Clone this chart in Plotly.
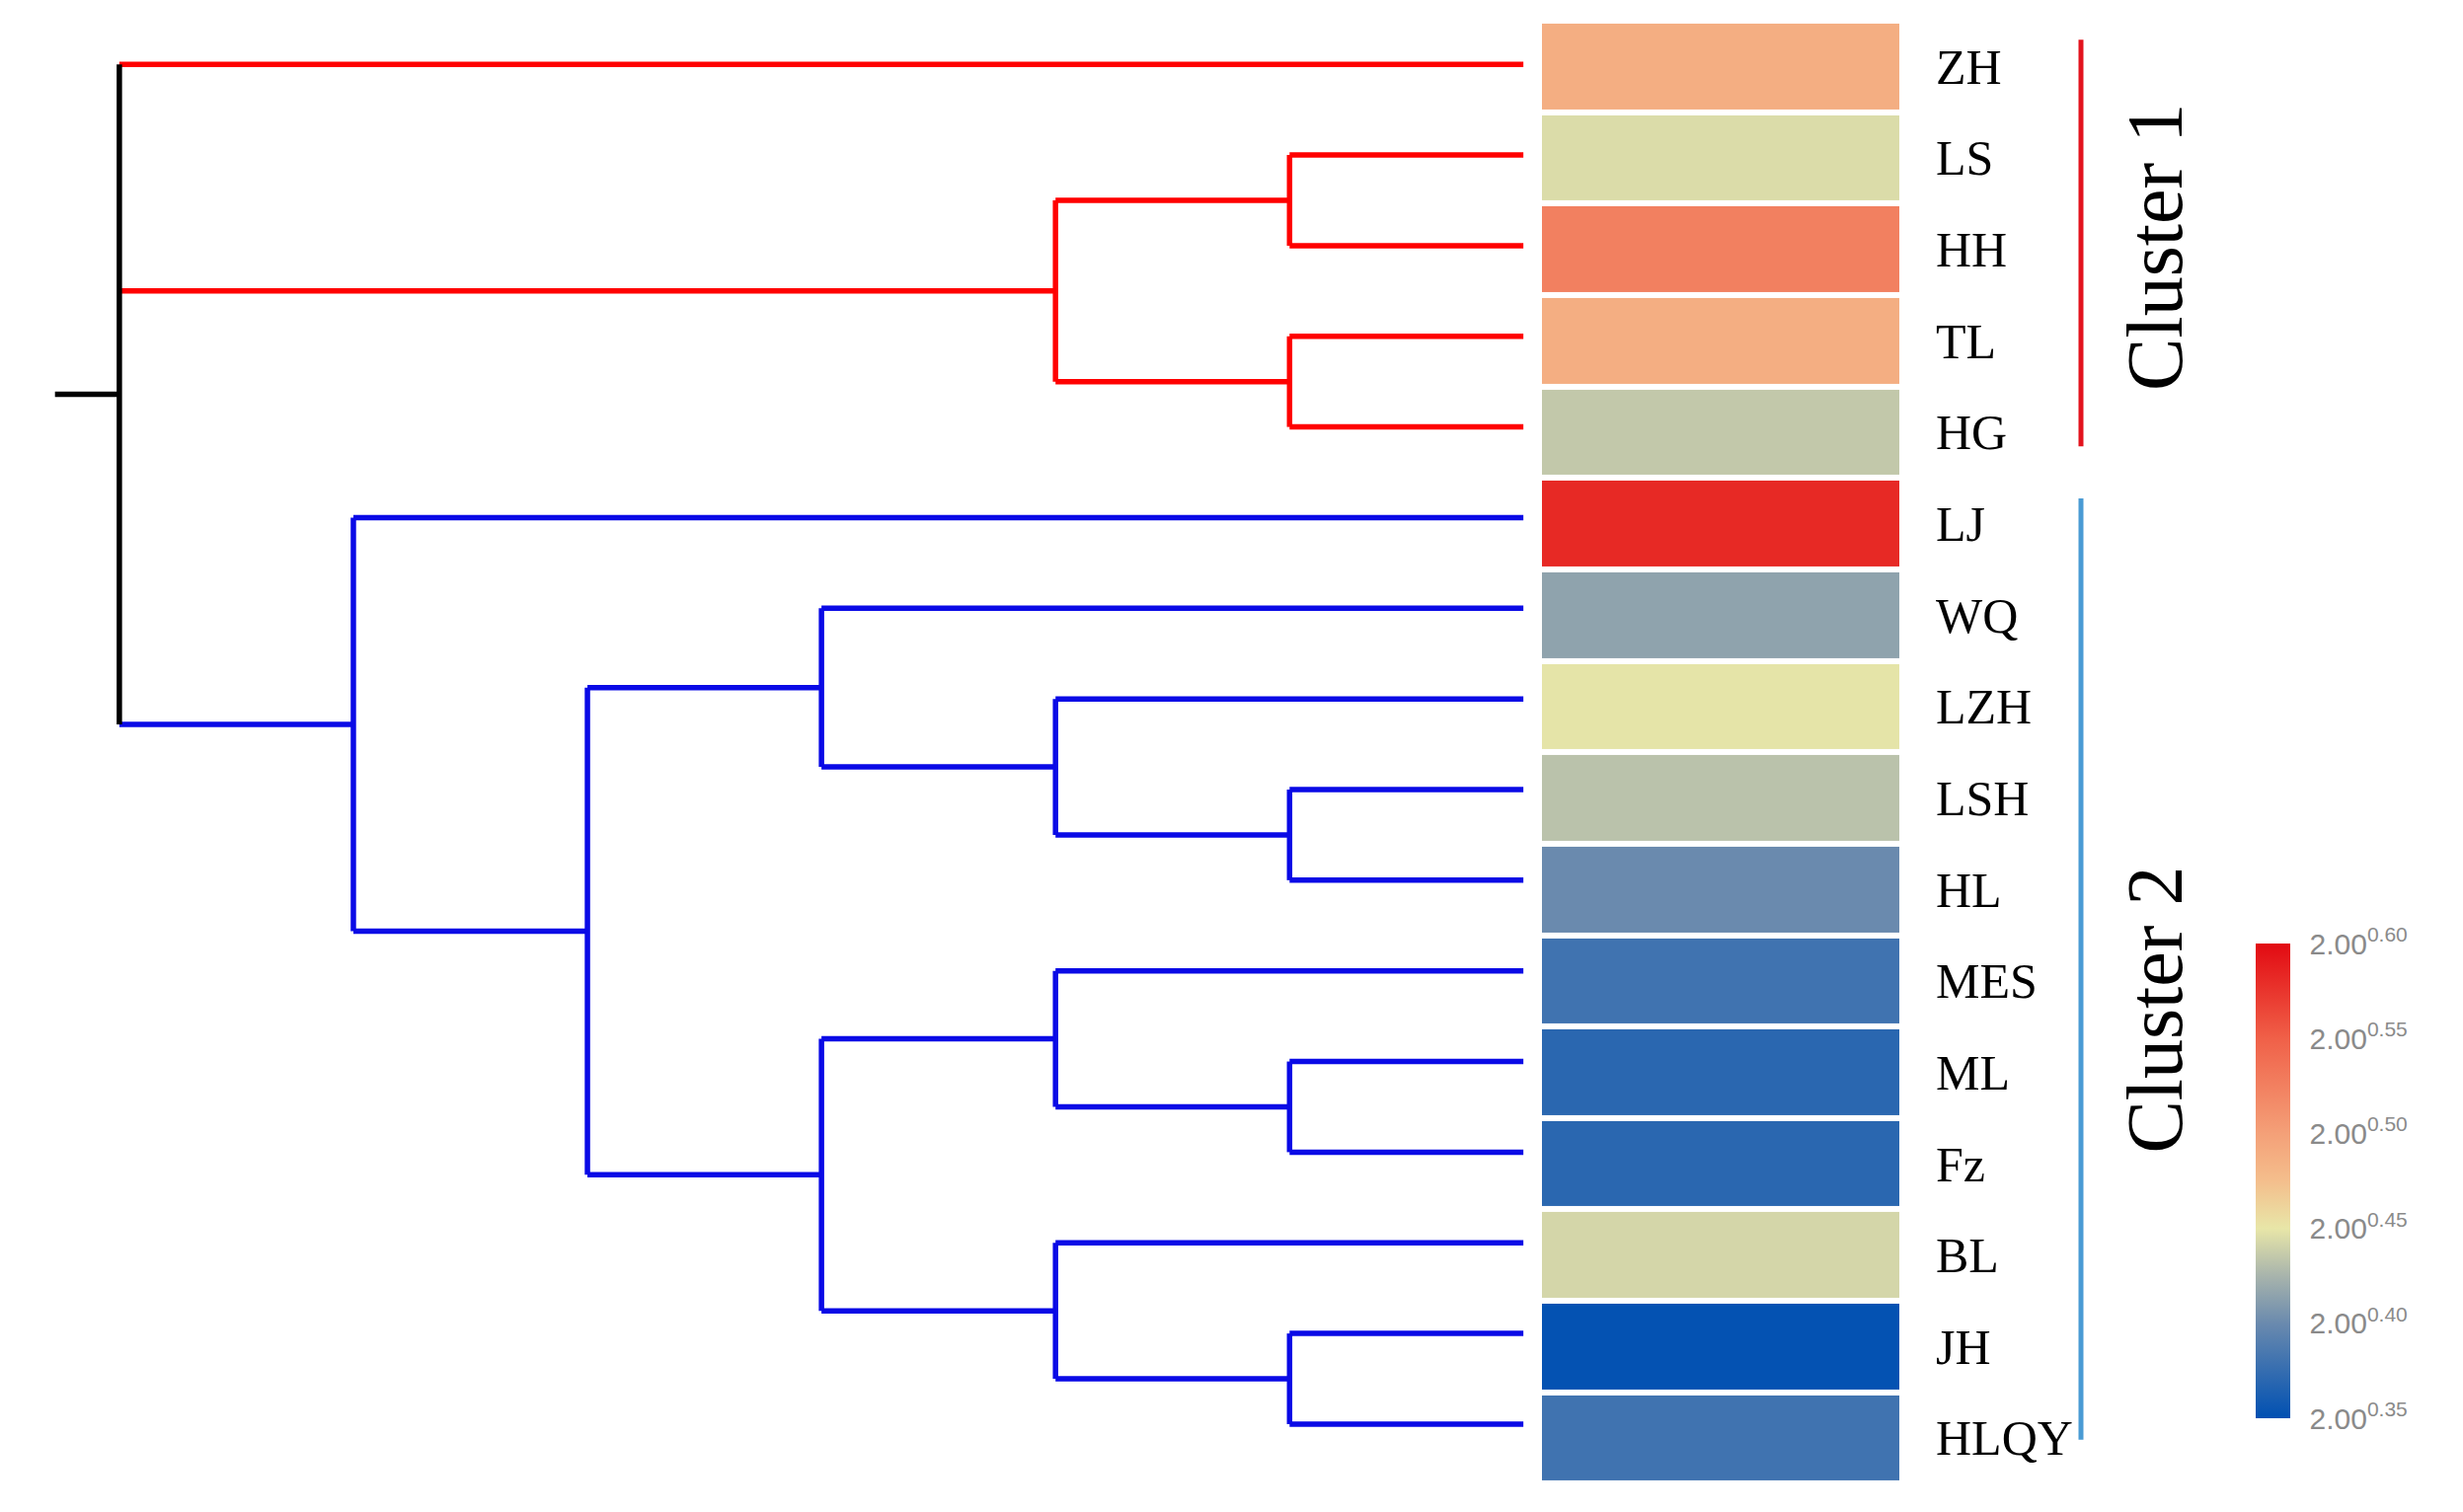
import plotly.graph_objects as go

# ---------------- data ----------------
labels = ["ZH", "LS", "HH", "TL", "HG", "LJ", "WQ", "LZH", "LSH", "HL",
          "MES", "ML", "Fz", "BL", "JH", "HLQY"]
values = [0.488, 0.445, 0.525, 0.488, 0.435, 0.582, 0.415, 0.449, 0.432, 0.400,
          0.380, 0.370, 0.370, 0.442, 0.352, 0.380]

# dendrogram merges (node, left child, right child, height)
merge_nodes = ["c1a", "c1b", "c1", "C1", "b1", "b2", "b3", "b4", "b5", "b6",
               "b7", "b8", "b9", "b10", "root"]
merge_left = ["LS", "TL", "c1a", "ZH", "LSH", "LZH", "WQ", "ML", "MES", "JH",
              "BL", "b5", "b3", "LJ", "C1"]
merge_right = ["HH", "HG", "c1b", "c1", "HL", "b1", "b2", "Fz", "b4", "HLQY",
               "b6", "b7", "b8", "b9", "b10"]
merge_height = [1, 1, 2, 6, 1, 2, 3, 1, 2, 1, 2, 3, 4, 5, 6]

cluster_names = ["Cluster 1", "Cluster 2"]
cluster_members = [["ZH", "LS", "HH", "TL", "HG"],
                   ["LJ", "WQ", "LZH", "LSH", "HL", "MES", "ML", "Fz", "BL", "JH", "HLQY"]]

cbar_tickvals = [0.35, 0.40, 0.45, 0.50, 0.55, 0.60]
cbar_ticktext = ["2.00<sup>0.35</sup>", "2.00<sup>0.40</sup>", "2.00<sup>0.45</sup>",
                 "2.00<sup>0.50</sup>", "2.00<sup>0.55</sup>", "2.00<sup>0.60</sup>"]

# ---------------- styles ----------------
PAGE_W, PAGE_H = 2495, 1532
OFF = 8  # default page body margin
W, H = PAGE_W - 2 * OFF, PAGE_H - 2 * OFF


def px(x):  # page x pixel -> paper fraction
    return (x - OFF) / W


def py(y):  # page y pixel (from top) -> figure pixel from top
    return y - OFF


branch_colors = ["#FF0000", "#0A0AE6"]
root_color = "#000000"
bar_colors = ["#E3141E", "#4A9BD4"]
bar_pad = [(-0.29, 0.155), (-0.275, 0.02)]
text_offset = [0.05, 0.45]
stub_len = 0.275
lw = 5.5

colorscale = [[0.0, "#0050B2"], [0.2, "#6A8AAE"], [0.3, "#A8B4AC"], [0.4, "#E8E6A8"],
              [0.5, "#F4BE8C"], [0.6, "#F4A078"], [0.8, "#F06048"], [1.0, "#E20A12"]]

# ---------------- dendrogram geometry ----------------
leaf_pos = {lab: i for i, lab in enumerate(labels)}
children = {n: [l, r] for n, l, r in zip(merge_nodes, merge_left, merge_right)}
height = {n: h for n, h in zip(merge_nodes, merge_height)}
for lab in labels:
    height[lab] = 0


def leaves_of(n):
    if n in leaf_pos:
        return [n]
    return leaves_of(children[n][0]) + leaves_of(children[n][1])


def color_of(n):
    lv = set(leaves_of(n))
    for k, mem in enumerate(cluster_members):
        if lv <= set(mem):
            return branch_colors[k]
    return root_color


def flat_children(n):
    out = []
    for c in children[n]:
        if c in children and height[c] == height[n]:
            out += flat_children(c)
        else:
            out.append(c)
    return out


ypos = {}


def node_y(n):
    if n in ypos:
        return ypos[n]
    if n in leaf_pos:
        ypos[n] = leaf_pos[n]
    else:
        ys = [node_y(c) for c in flat_children(n)]
        ypos[n] = (min(ys) + max(ys)) / 2
    return ypos[n]


segs = {}


def add_seg(col, x0, y0, x1, y1):
    xs, ys = segs.setdefault(col, ([], []))
    xs += [x0, x1, None]
    ys += [y0, y1, None]


def draw(n):
    if n in leaf_pos:
        return
    kids = flat_children(n)
    hn = height[n]
    ys = [node_y(c) for c in kids]
    for c in kids:
        add_seg(color_of(c), height[c], node_y(c), hn, node_y(c))
        draw(c)
    add_seg(color_of(n), hn, min(ys), hn, max(ys))


root = merge_nodes[-1]
draw(root)
add_seg(root_color, height[root], node_y(root), height[root] + stub_len, node_y(root))

fig = go.Figure()
for col, (xs, ys) in segs.items():
    fig.add_trace(go.Scatter(x=xs, y=ys, mode="lines", xaxis="x", yaxis="y",
                             line=dict(color=col, width=lw), hoverinfo="skip",
                             showlegend=False))

# ---------------- heatmap ----------------
fig.add_trace(go.Heatmap(
    z=[[v] for v in values], x=[0], y=list(range(len(labels))),
    xaxis="x2", yaxis="y2", zmin=0.35, zmax=0.60, colorscale=colorscale,
    ygap=6, xgap=0,
    colorbar=dict(x=px(2285), xanchor="left", y=1 - py(1196.5) / H, yanchor="middle",
                  len=481 / H, lenmode="fraction", thickness=35, outlinewidth=0,
                  tickmode="array", tickvals=cbar_tickvals, ticktext=cbar_ticktext,
                  ticks="outside", ticklen=14, tickcolor="rgba(0,0,0,0)",
                  tickfont=dict(family="Liberation Sans", size=30, color="#8A8A8A"),
                  ypad=0, xpad=0)))

# ---------------- cluster bars & texts ----------------
for k, mem in enumerate(cluster_members):
    idx = [leaf_pos[m] for m in mem]
    y0 = min(idx) + bar_pad[k][0]
    y1 = max(idx) + bar_pad[k][1]
    fig.add_shape(type="line", xref="paper", yref="y2", x0=px(2108), x1=px(2108),
                  y0=y0, y1=y1, line=dict(color=bar_colors[k], width=5))
    fig.add_annotation(text=cluster_names[k], xref="paper", yref="y2",
                       x=px(2183), y=(y0 + y1) / 2 + text_offset[k], textangle=-90,
                       showarrow=False, xanchor="center", yanchor="middle",
                       font=dict(family="Liberation Serif", size=80, color="black"))

# ---------------- layout ----------------
dend_right = 1543.4
unit = (1543.4 - 120.9) / 6
leaf0, leaf_step = 65.2, 91.85
row_top, row_bottom = 20.9, 1503.3
row_step = (row_bottom - row_top) / len(labels)
fig.update_layout(
    width=W, height=H, margin=dict(l=0, r=0, t=0, b=0),
    paper_bgcolor="white", plot_bgcolor="white", showlegend=False,
    xaxis=dict(domain=[0, px(dend_right)],
               range=[(dend_right - OFF) / unit, 0],
               visible=False, showgrid=False, zeroline=False),
    yaxis=dict(domain=[0, 1],
               range=[(H - py(leaf0)) / leaf_step, -py(leaf0) / leaf_step],
               visible=False, showgrid=False, zeroline=False),
    xaxis2=dict(domain=[px(1562), px(1924)], range=[-0.5, 0.5], anchor="y2",
                visible=False, showgrid=False, zeroline=False),
    yaxis2=dict(domain=[0, 1], anchor="x2", side="right",
                range=[-0.5 + (H - py(row_top)) / row_step, -0.5 - py(row_top) / row_step],
                tickmode="array", tickvals=list(range(len(labels))), ticktext=labels,
                ticks="", ticklabelstandoff=36, showgrid=False, zeroline=False,
                showline=False,
                tickfont=dict(family="Liberation Serif", size=50, color="black")),
)

fig.write_html("out.html")
